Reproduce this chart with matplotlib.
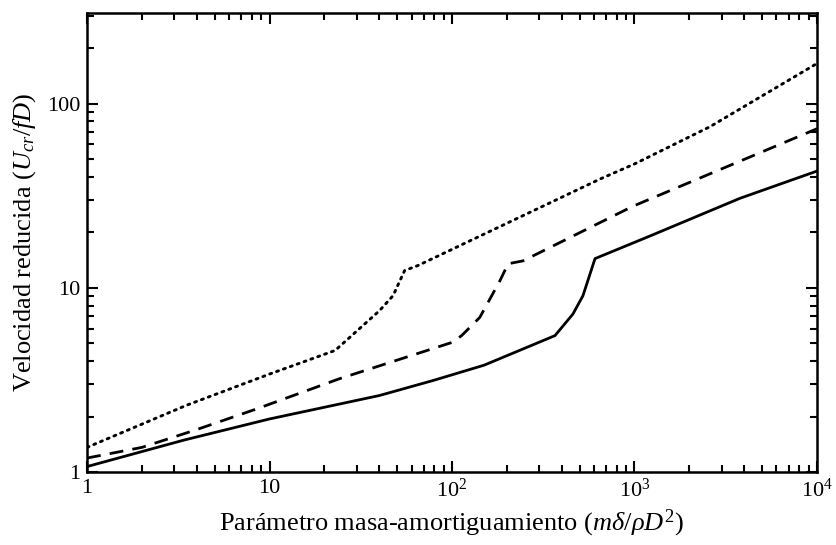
import matplotlib
matplotlib.use("Agg")
import matplotlib.pyplot as plt
from matplotlib.ticker import FixedLocator, FixedFormatter, LogLocator, NullFormatter

plt.rcParams['font.family'] = ['Liberation Serif', 'DejaVu Serif']
plt.rcParams['mathtext.fontset'] = 'custom'
plt.rcParams['mathtext.rm'] = 'Liberation Serif'
plt.rcParams['mathtext.it'] = 'Liberation Serif:italic'
plt.rcParams['mathtext.bf'] = 'Liberation Serif:bold'

# Data (log-log)
solid_x = [1, 3.4, 10, 40, 79, 150, 367, 460, 522, 608, 1216, 3786, 10000]
solid_y = [1.07, 1.49, 1.94, 2.6, 3.14, 3.8, 5.5, 7.2, 9.05, 14.4, 19.1, 30.6, 43]

dashed_x = [1, 2, 4, 8.5, 24, 100, 113, 142, 183, 203, 245, 980, 5300, 10000]
dashed_y = [1.19, 1.36, 1.7, 2.2, 3.2, 5.05, 5.5, 6.9, 10.9, 13.5, 14.0, 27.7, 56, 73]

dotted_x = [1, 3.5, 10, 22.9, 40, 47.5, 55, 65, 650, 1000, 2600, 5000, 10000]
dotted_y = [1.36, 2.3, 3.4, 4.57, 7.5, 9.05, 12.4, 13.2, 39, 47, 75, 110, 165]

xticks = [1, 10, 100, 1000, 10000]
xticklabels = ['1', '10', r'$10^2$', r'$10^3$', r'$10^4$']
yticks = [1, 10, 100]
yticklabels = ['1', '10', '100']

fig = plt.figure(figsize=(8.37, 5.45), dpi=100)
ax = fig.add_axes([0.104, 0.134, 0.872, 0.842])

ax.plot(solid_x, solid_y, color='black', lw=2.0, linestyle='-')
ax.plot(dashed_x, dashed_y, color='black', lw=2.0, linestyle=(0, (5, 3.3)))
ax.plot(dotted_x, dotted_y, color='black', lw=2.1, linestyle=(0, (0.7, 1.8)), dash_capstyle='round')

ax.set_xscale('log')
ax.set_yscale('log')
ax.set_xlim(1, 1e4)
ax.set_ylim(1, 310)

ax.xaxis.set_major_locator(FixedLocator(xticks))
ax.xaxis.set_major_formatter(FixedFormatter(xticklabels))
ax.yaxis.set_major_locator(FixedLocator(yticks))
ax.yaxis.set_major_formatter(FixedFormatter(yticklabels))
ax.xaxis.set_minor_locator(LogLocator(base=10, subs=range(2, 10), numticks=20))
ax.yaxis.set_minor_locator(LogLocator(base=10, subs=range(2, 10), numticks=20))
ax.xaxis.set_minor_formatter(NullFormatter())
ax.yaxis.set_minor_formatter(NullFormatter())

ax.tick_params(which='both', direction='in', top=True, right=True, width=1.5, colors='black')
ax.tick_params(which='major', length=8, labelsize=16, pad=5)
ax.tick_params(which='minor', length=5)

for s in ax.spines.values():
    s.set_linewidth(1.8)

ax.set_xlabel(r'Parámetro masa-amortiguamiento ($m\delta/\rho D^2$)', fontsize=19, labelpad=4)
ax.set_ylabel(r'Velocidad reducida ($U_{cr}/fD$)', fontsize=19, labelpad=6)

fig.savefig('out.png', dpi=100)
